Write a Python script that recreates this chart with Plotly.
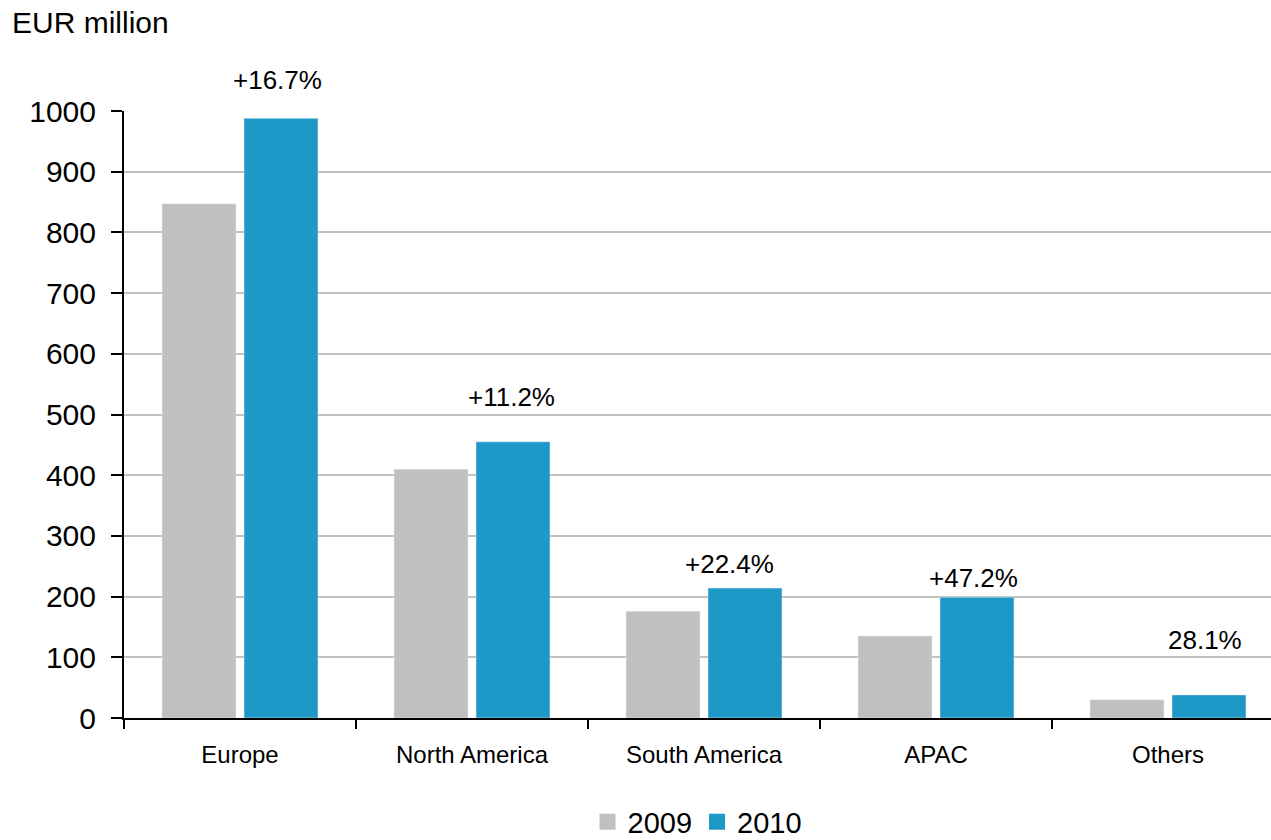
import plotly.graph_objects as go

regions = ["Europe", "North America", "South America", "APAC", "Others"]
sales_2009 = [847, 410, 176, 135, 30]
sales_2010 = [988, 455, 214, 199, 38]
growth_labels = ["+16.7%", "+11.2%", "+22.4%", "+47.2%", "28.1%"]
# label placement: (offset from category centre, height in EUR million)
label_offsets = [0.16, 0.17, 0.11, 0.16, 0.16]
label_heights = [1051, 529, 254, 231, 128]

GREY = "#c0c0c0"
BLUE = "#1e98c6"
FONT = "Liberation Sans, Arial, sans-serif"
Y_MAX = 1000

fig = go.Figure()
fig.add_trace(go.Bar(x=regions, y=sales_2009, name="2009", marker_color=GREY,
                     showlegend=False))
fig.add_trace(go.Bar(x=regions, y=sales_2010, name="2010", marker_color=BLUE,
                     showlegend=False))

# larger square legend keys
for name, col in (("2009", GREY), ("2010", BLUE)):
    fig.add_trace(go.Scatter(x=[None], y=[None], mode="markers", name=name,
                             marker=dict(symbol="square", size=16, color=col)))

# growth labels; y in paper units (plot domain spans 0..Y_MAX) so they may sit above the axis
for i, (txt, dx, h) in enumerate(zip(growth_labels, label_offsets, label_heights)):
    fig.add_annotation(x=i + dx, y=h / Y_MAX, xref="x", yref="paper", text=txt,
                       showarrow=False, yanchor="middle",
                       font=dict(size=26, color="black"))

fig.add_annotation(x=-114 / 1147, y=1 + (111 - 22) / 607, xref="paper", yref="paper",
                   text="EUR million", showarrow=False, xanchor="left", yanchor="middle",
                   font=dict(size=30, color="black"))

fig.update_layout(
    width=1271, height=840,
    margin=dict(l=124, r=0, t=111, b=122),
    paper_bgcolor="white", plot_bgcolor="white",
    font=dict(family=FONT, color="black"),
    barmode="group", bargap=0.293, bargroupgap=0.098,
    showlegend=True,
    legend=dict(orientation="h", x=0.5, xanchor="center",
                yref="container", y=1 - 822 / 840, yanchor="middle",
                font=dict(size=29), itemwidth=30, traceorder="normal"),
)
fig.update_xaxes(
    type="category", range=[-0.5, 4.444], tickson="boundaries",
    showline=True, linecolor="black", linewidth=2,
    ticks="outside", ticklen=9, tickwidth=2, tickcolor="black",
    showgrid=False, tickfont=dict(size=24), ticklabelstandoff=14,
)
fig.update_yaxes(
    range=[0, Y_MAX], tickvals=list(range(0, Y_MAX + 1, 100)),
    showline=True, linecolor="black", linewidth=2,
    ticks="outside", ticklen=11, tickwidth=2, tickcolor="black",
    showgrid=True, gridcolor="#c0c0c0", gridwidth=2,
    zeroline=False, tickfont=dict(size=30), ticklabelstandoff=9,
)

fig.write_html("out.html")
